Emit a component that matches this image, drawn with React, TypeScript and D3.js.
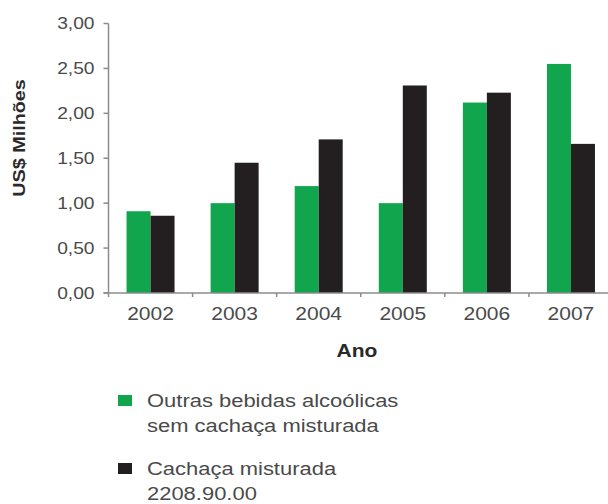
import React from 'react'
import * as d3 from 'd3'

// values (US$ millions)
const years = ['2002', '2003', '2004', '2005', '2006', '2007']
const outras = [0.91, 1.0, 1.19, 1.0, 2.12, 2.55]
const cachaca = [0.86, 1.45, 1.71, 2.31, 2.23, 1.66]
const yTicks = [0, 0.5, 1, 1.5, 2, 2.5, 3]
const seriesKeys = ['outras', 'cachaca']
const legendLabels = [
  ['Outras bebidas alcoólicas', 'sem cachaça misturada'],
  ['Cachaça misturada', '2208.90.00'],
]

const GREEN = '#11a54e'
const BLACK = '#231f20'
const AXIS = '#8c8c8c'
const TEXT = '#4a4a4a'
const FONT = '"Liberation Sans", Arial, Helvetica, sans-serif'
const SX = 1.2 // the reference text is drawn a bit wide

// text stretched along its baseline around its anchor point
const at = (x: number, y: number, rot = 0) =>
  `translate(${x},${y})${rot ? ` rotate(${rot})` : ''} scale(${SX},1)`

export default function App() {
  const W = 608
  const H = 504
  const left = 108.5
  const bottom = 293
  const top = 23.5
  const right = 613

  const y = d3.scaleLinear().domain([0, 3]).range([bottom, top])
  const x = d3.scaleBand().domain(years).range([left, right])
  const groupW = 48
  const inner = d3.scaleBand().domain(seriesKeys).range([0, groupW])
  const fmt = (v: number) => d3.format('.2f')(v).replace('.', ',')

  const rows = years.map((yr, i) => ({ yr, outras: outras[i], cachaca: cachaca[i] }))
  const colors: Record<string, string> = { outras: GREEN, cachaca: BLACK }

  // tick marks on x axis sit at the category boundaries
  const bounds = years.map((d) => x(d) as number).concat([right])

  return (
    <svg
      width={W}
      height={H}
      style={{ position: 'absolute', left: 0, top: 0, background: '#fff', fontFamily: FONT }}
    >
      {/* bars */}
      {rows.map((r) => (
        <g key={r.yr} transform={`translate(${(x(r.yr) as number) + (x.bandwidth() - groupW) / 2},0)`}>
          {seriesKeys.map((k) => {
            const v = (r as any)[k] as number
            return (
              <rect
                key={k}
                x={inner(k)}
                y={y(v)}
                width={inner.bandwidth()}
                height={bottom - y(v)}
                fill={colors[k]}
              />
            )
          })}
        </g>
      ))}

      {/* y axis */}
      <line x1={left} x2={left} y1={top} y2={bottom} stroke={AXIS} strokeWidth={1.5} />
      {yTicks.map((t) => (
        <g key={t}>
          <line x1={left - 5} x2={left} y1={y(t)} y2={y(t)} stroke={AXIS} strokeWidth={1.5} />
          <text
            transform={at(left - 14, y(t) + 5.5)}
            textAnchor="end"
            fontSize={16}
            fill={TEXT}
          >
            {fmt(t)}
          </text>
        </g>
      ))}
      <text transform={at(25, 138, -90)} textAnchor="middle" fontSize={16.5} fontWeight="bold" fill="#2a2a2a">
        US$ Milhões
      </text>

      {/* x axis */}
      <line x1={left - 5} x2={W} y1={bottom} y2={bottom} stroke={AXIS} strokeWidth={1.5} />
      {bounds.map((b, i) => (
        <line key={i} x1={b} x2={b} y1={bottom} y2={bottom + 4} stroke={AXIS} strokeWidth={1.5} />
      ))}
      {years.map((yr) => (
        <text
          key={yr}
          transform={at((x(yr) as number) + x.bandwidth() / 2, 320)}
          textAnchor="middle"
          fontSize={17.5}
          fill={TEXT}
        >
          {yr}
        </text>
      ))}
      <text transform={at(357, 357)} textAnchor="middle" fontSize={17.5} fontWeight="bold" fill="#2a2a2a">
        Ano
      </text>

      {/* legend */}
      {seriesKeys.map((k, i) => {
        const y0 = 395 + i * 68
        return (
          <g key={k}>
            <rect x={118} y={y0} width={14} height={11} fill={colors[k]} />
            {legendLabels[i].map((line, j) => (
              <text key={j} transform={at(147, y0 + 12 + j * 25)} fontSize={18.3} fill={TEXT}>
                {line}
              </text>
            ))}
          </g>
        )
      })}
    </svg>
  )
}
